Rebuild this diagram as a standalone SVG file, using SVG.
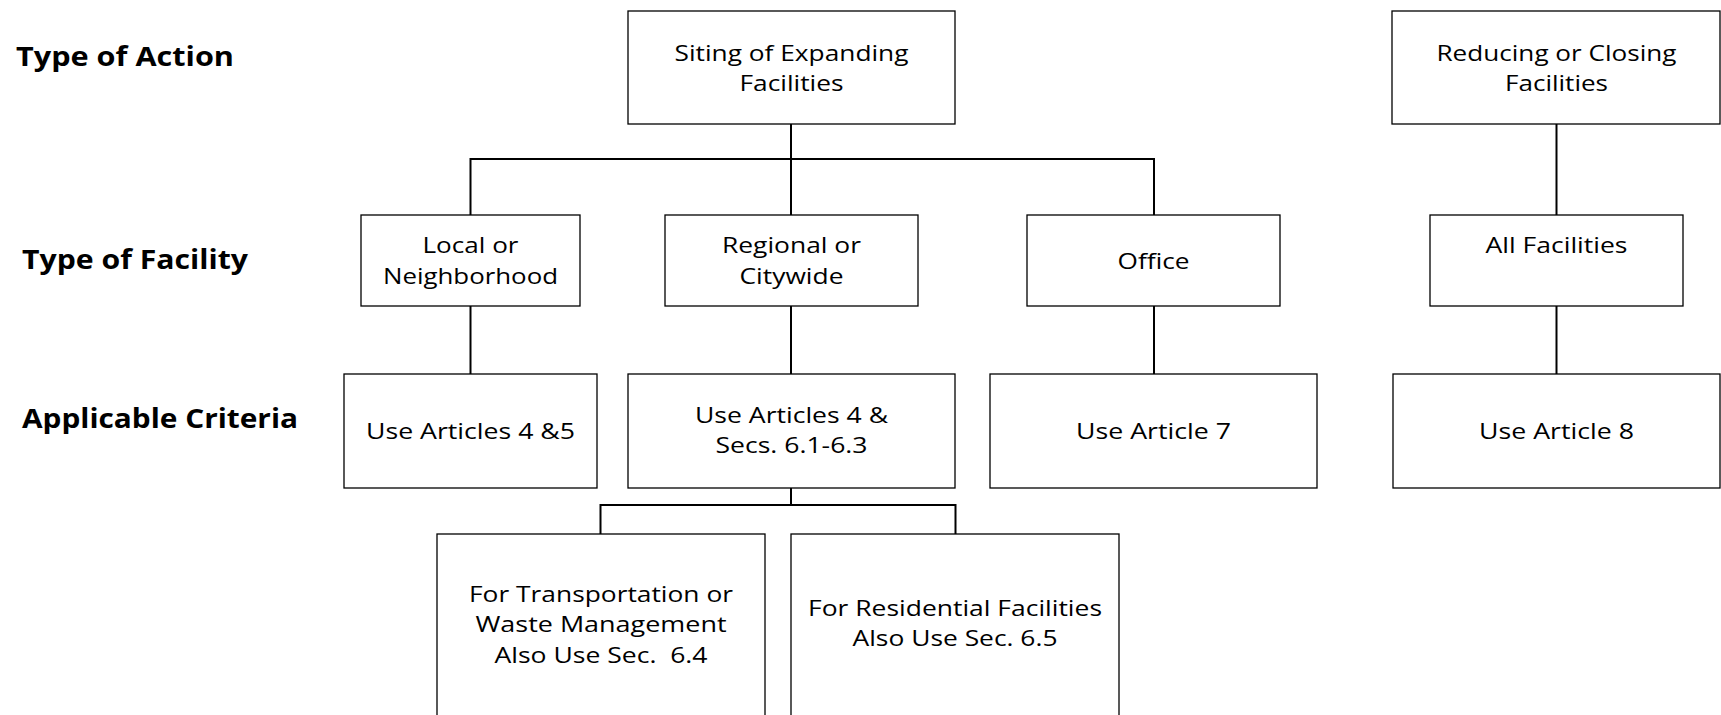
<svg xmlns="http://www.w3.org/2000/svg" width="1721" height="715" viewBox="0 0 1721 715">
<style>
.box{fill:#fff;stroke:#000;stroke-width:1.3}
.t{font-family:"Open Sans","Liberation Sans",sans-serif;font-size:22px;fill:#000;text-anchor:middle}
.h{font-family:"Open Sans","Liberation Sans",sans-serif;font-size:26px;font-weight:bold;fill:#000}
.c{fill:none;stroke:#000;stroke-width:2}
</style>
<rect width="1721" height="715" fill="#fff"/>
<g id="headings">
<text class="h" x="16" y="66" textLength="218" lengthAdjust="spacingAndGlyphs">Type of Action</text>
<text class="h" x="22" y="269" textLength="226" lengthAdjust="spacingAndGlyphs">Type of Facility</text>
<text class="h" x="22" y="428" textLength="276" lengthAdjust="spacingAndGlyphs">Applicable Criteria</text>
</g>
<g id="connectors">
<path class="c" d="M791 124V215M470.5 215V159H1154V215"/>
<path class="c" d="M1556.5 124V215"/>
<path class="c" d="M470.5 306V374"/>
<path class="c" d="M791 306V374"/>
<path class="c" d="M1154 306V374"/>
<path class="c" d="M1556.5 306V374"/>
<path class="c" d="M791 488V505M600.5 534V505H955.5V534"/>
</g>
<g id="siting">
<rect class="box" x="628" y="11" width="327" height="113"/>
<text class="t" x="791.5" y="61" textLength="234" lengthAdjust="spacingAndGlyphs">Siting of Expanding</text>
<text class="t" x="791.5" y="91" textLength="104" lengthAdjust="spacingAndGlyphs">Facilities</text>
</g>
<g id="reducing">
<rect class="box" x="1392" y="11" width="328" height="113"/>
<text class="t" x="1556.5" y="61" textLength="240" lengthAdjust="spacingAndGlyphs">Reducing or Closing</text>
<text class="t" x="1556.5" y="91" textLength="103" lengthAdjust="spacingAndGlyphs">Facilities</text>
</g>
<g id="local">
<rect class="box" x="361" y="215" width="219" height="91"/>
<text class="t" x="470.5" y="253" textLength="96" lengthAdjust="spacingAndGlyphs">Local or</text>
<text class="t" x="470.5" y="284" textLength="175" lengthAdjust="spacingAndGlyphs">Neighborhood</text>
</g>
<g id="regional">
<rect class="box" x="665" y="215" width="253" height="91"/>
<text class="t" x="791.5" y="253" textLength="139" lengthAdjust="spacingAndGlyphs">Regional or</text>
<text class="t" x="791.5" y="284" textLength="104" lengthAdjust="spacingAndGlyphs">Citywide</text>
</g>
<g id="office">
<rect class="box" x="1027" y="215" width="253" height="91"/>
<text class="t" x="1153.5" y="269" textLength="72" lengthAdjust="spacingAndGlyphs">Office</text>
</g>
<g id="all">
<rect class="box" x="1430" y="215" width="253" height="91"/>
<text class="t" x="1556.5" y="253" textLength="142" lengthAdjust="spacingAndGlyphs">All Facilities</text>
</g>
<g id="art45">
<rect class="box" x="344" y="374" width="253" height="114"/>
<text class="t" x="470.5" y="439" textLength="209" lengthAdjust="spacingAndGlyphs">Use Articles 4 &amp;5</text>
</g>
<g id="art4secs">
<rect class="box" x="628" y="374" width="327" height="114"/>
<text class="t" x="791.5" y="423" textLength="193" lengthAdjust="spacingAndGlyphs">Use Articles 4 &amp;</text>
<text class="t" x="791.5" y="453" textLength="152" lengthAdjust="spacingAndGlyphs">Secs. 6.1-6.3</text>
</g>
<g id="art7">
<rect class="box" x="990" y="374" width="327" height="114"/>
<text class="t" x="1153.5" y="439" textLength="155" lengthAdjust="spacingAndGlyphs">Use Article 7</text>
</g>
<g id="art8">
<rect class="box" x="1393" y="374" width="327" height="114"/>
<text class="t" x="1556.5" y="439" textLength="155" lengthAdjust="spacingAndGlyphs">Use Article 8</text>
</g>
<g id="transport">
<rect class="box" x="437" y="534" width="328" height="200"/>
<text class="t" x="601" y="602" textLength="264" lengthAdjust="spacingAndGlyphs">For Transportation or</text>
<text class="t" x="601" y="632" textLength="251" lengthAdjust="spacingAndGlyphs">Waste Management</text>
<text class="t" x="601" y="663" textLength="213" lengthAdjust="spacingAndGlyphs" xml:space="preserve">Also Use Sec.  6.4</text>
</g>
<g id="residential">
<rect class="box" x="791" y="534" width="328" height="200"/>
<text class="t" x="955" y="616" textLength="294" lengthAdjust="spacingAndGlyphs">For Residential Facilities</text>
<text class="t" x="955" y="646" textLength="205" lengthAdjust="spacingAndGlyphs">Also Use Sec. 6.5</text>
</g>
</svg>
